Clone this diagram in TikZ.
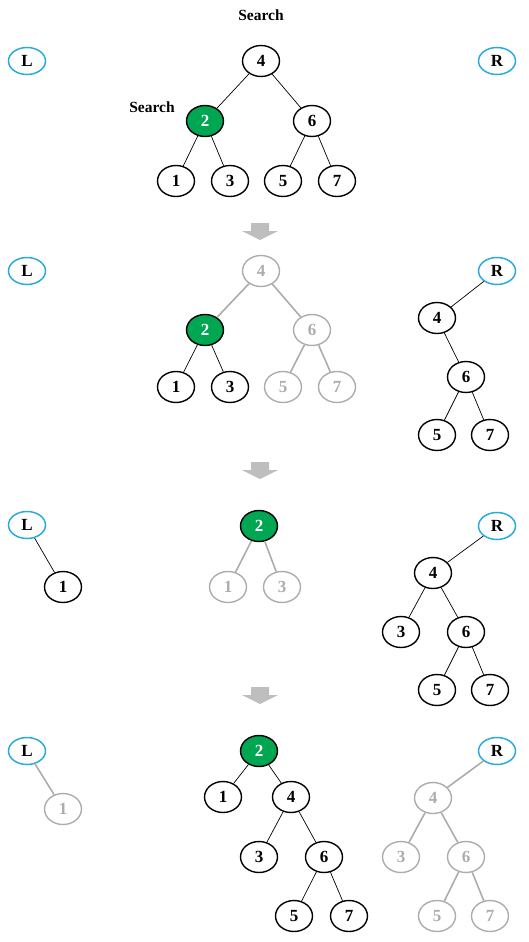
\documentclass[tikz,border=0pt]{standalone}
\usepackage{fontspec}
\setmainfont{Liberation Serif}
\usetikzlibrary{shapes.geometric}
\definecolor{lg}{RGB}{172,172,172}
\definecolor{gfill}{RGB}{0,166,81}
\definecolor{lblue}{RGB}{41,171,226}
\definecolor{agray}{RGB}{190,190,190}
\tikzset{
  nd/.style={ellipse,draw=black,line width=1.4pt,minimum width=37pt,minimum height=31pt,inner sep=0pt,font=\fontsize{17}{17}\selectfont\bfseries},
  gnd/.style={nd,draw=lg,text=lg},
  grn/.style={nd,fill=gfill,text=white},
  lr/.style={ellipse,draw=lblue,line width=1.5pt,minimum width=37pt,minimum height=27pt,inner sep=0pt,font=\fontsize{17}{17}\selectfont\bfseries},
  bed/.style={draw=black,line width=0.7pt},
  ged/.style={draw=lg,line width=1.6pt},
  lbl/.style={font=\fontsize{15.5}{16}\selectfont\bfseries,inner sep=0pt}
}
\newcommand\blockarrow[1]{\fill[agray] (251,#1) -- (269,#1) -- (269,#1+8) -- (278,#1+8) -- (260,#1+17) -- (242,#1+8) -- (251,#1+8) -- cycle;}
\begin{document}
\begin{tikzpicture}[x=1pt,y=-1pt]
\useasboundingbox (0,0) rectangle (528,942);
% ---------- panel 1
\node[lbl] (s1) at (261,15) {Search};
\node[lbl] (s2) at (152,107) {Search};
\node[lr] (aL) at (27,61) {L};
\node[lr] (aR) at (497,61) {R};
\node[nd] (a4) at (261,61) {4};
\node[grn] (a2) at (205,121) {2};
\node[nd] (a6) at (312,121) {6};
\node[nd] (a1) at (176,181) {1};
\node[nd] (a3) at (230,181) {3};
\node[nd] (a5) at (283,181) {5};
\node[nd] (a7) at (337,181) {7};
\draw[bed] (a4)--(a2) (a4)--(a6) (a2)--(a1) (a2)--(a3) (a6)--(a5) (a6)--(a7);
\blockarrow{223}
% ---------- panel 2
\node[lr] (bL) at (27,271) {L};
\node[lr] (bR) at (497,271) {R};
\node[gnd] (b4) at (261,271) {4};
\node[grn] (b2) at (205,330) {2};
\node[gnd] (b6) at (312,330) {6};
\node[nd] (b1) at (176,387) {1};
\node[nd] (b3) at (230,387) {3};
\node[gnd] (b5) at (283,387) {5};
\node[gnd] (b7) at (337,387) {7};
\draw[ged] (b4)--(b2) (b4)--(b6) (b6)--(b5) (b6)--(b7);
\draw[bed] (b2)--(b1) (b2)--(b3);
\node[nd] (br4) at (437,318) {4};
\node[nd] (br6) at (466,377) {6};
\node[nd] (br5) at (437,435) {5};
\node[nd] (br7) at (490,435) {7};
\draw[bed] (bR)--(br4) (br4)--(br6) (br6)--(br5) (br6)--(br7);
\blockarrow{462}
% ---------- panel 3
\node[lr] (cL) at (27,525) {L};
\node[lr] (cR) at (497,526) {R};
\node[nd] (cl1) at (63,587) {1};
\draw[bed] (cL)--(cl1);
\node[grn] (c2) at (259,526) {2};
\node[gnd] (c1) at (228,587) {1};
\node[gnd] (c3) at (282,587) {3};
\draw[ged] (c2)--(c1) (c2)--(c3);
\node[nd] (cr4) at (433,573) {4};
\node[nd] (cr3) at (401,632) {3};
\node[nd] (cr6) at (466,632) {6};
\node[nd] (cr5) at (437,690) {5};
\node[nd] (cr7) at (490,690) {7};
\draw[bed] (cR)--(cr4) (cr4)--(cr3) (cr4)--(cr6) (cr6)--(cr5) (cr6)--(cr7);
\blockarrow{687}
% ---------- panel 4
\node[lr] (dL) at (27,751) {L};
\node[lr] (dR) at (497,751) {R};
\node[gnd] (dl1) at (63,809) {1};
\draw[ged] (dL)--(dl1);
\node[grn] (d2) at (259,751) {2};
\node[nd] (d1) at (223,797) {1};
\node[nd] (d4) at (291,797) {4};
\node[nd] (d3) at (259,857) {3};
\node[nd] (d6) at (324,857) {6};
\node[nd] (d5) at (294,916) {5};
\node[nd] (d7) at (349,916) {7};
\draw[bed] (d2)--(d1) (d2)--(d4) (d4)--(d3) (d4)--(d6) (d6)--(d5) (d6)--(d7);
\node[gnd] (dr4) at (433,798) {4};
\node[gnd] (dr3) at (401,857) {3};
\node[gnd] (dr6) at (466,857) {6};
\node[gnd] (dr5) at (437,916) {5};
\node[gnd] (dr7) at (490,916) {7};
\draw[ged] (dR)--(dr4) (dr4)--(dr3) (dr4)--(dr6) (dr6)--(dr5) (dr6)--(dr7);
\end{tikzpicture}
\end{document}
